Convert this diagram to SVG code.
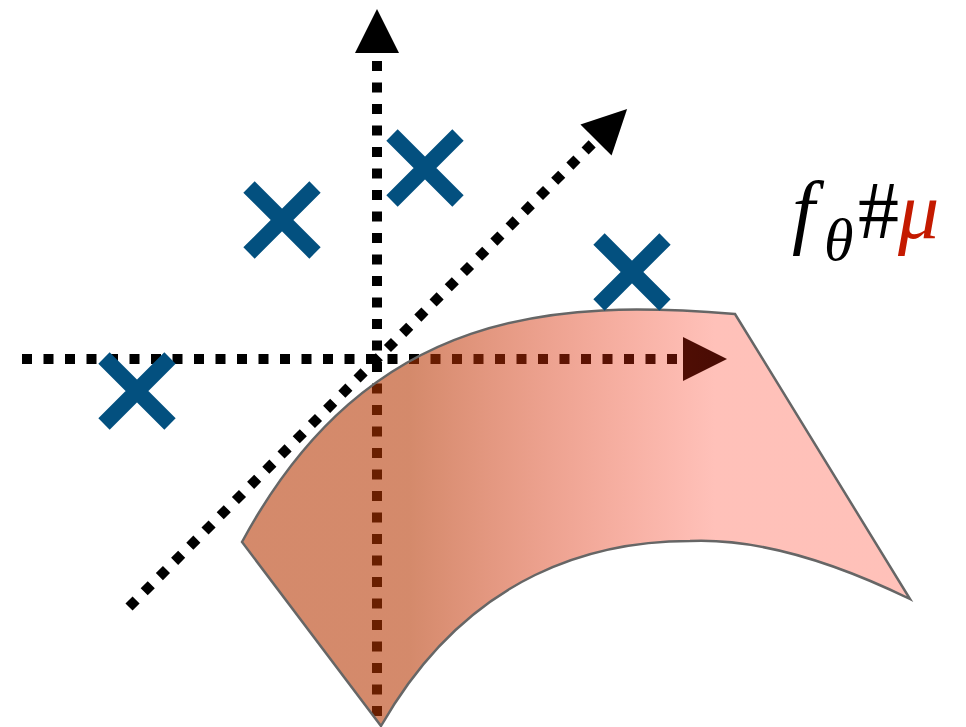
<svg xmlns="http://www.w3.org/2000/svg" width="966" height="727" viewBox="0 0 966 727">
  <style>
    .axis { fill: none; stroke: #000; stroke-width: 10; stroke-dasharray: 10 11.5; marker-end: url(#arrow); }
    .cross { stroke: #03507F; stroke-width: 16; fill: none; }
    .label { font-family: "Liberation Serif", "Times New Roman", serif; font-size: 82px; }
  </style>
  <defs>
    <marker id="arrow" markerUnits="userSpaceOnUse" markerWidth="46" markerHeight="46" refX="0" refY="23" orient="auto" viewBox="0 0 46 46" overflow="visible">
      <path d="M0,1 L44,23 L0,45 Z" fill="#000"/>
    </marker>
    <linearGradient id="surfGrad" gradientUnits="userSpaceOnUse" x1="410" y1="0" x2="715" y2="0">
      <stop offset="0" stop-color="rgb(181,53,0)" stop-opacity="0.58"/>
      <stop offset="1" stop-color="rgb(255,41,14)" stop-opacity="0.29"/>
    </linearGradient>
  </defs>
  <rect width="966" height="727" fill="#fff"/>

  <g id="connectors">
    <line class="axis" x1="377" y1="716" x2="377" y2="53"/>
    <line class="axis" x1="22" y1="359" x2="683" y2="359"/>
    <line class="axis" x1="129" y1="607" x2="596" y2="140"/>
  </g>

  <g id="surface">
    <path d="M242,542 C370,305 560,300 735,314 L910,599 C840,565 760,538 690,541 C600,541 470,570 381,726 Z"
          fill="url(#surfGrad)" stroke="#666" stroke-width="2.5" stroke-linejoin="miter"/>
  </g>

  <g id="point1"><path class="cross" d="M249,187 L315,253 M315,187 L249,253"/></g>
  <g id="point2"><path class="cross" d="M392,135 L458,201 M458,135 L392,201"/></g>
  <g id="point3"><path class="cross" d="M599,239 L665,305 M665,239 L599,305"/></g>
  <g id="point4"><path class="cross" d="M104,358 L170,424 M170,358 L104,424"/></g>

  <g id="label">
    <text class="label" y="238"><tspan x="792" font-style="italic">f</tspan><tspan x="824" y="260" font-style="italic" font-size="60">θ</tspan><tspan x="858" y="238">#</tspan><tspan x="898" font-style="italic" fill="#C41A00">μ</tspan></text>
  </g>
</svg>
